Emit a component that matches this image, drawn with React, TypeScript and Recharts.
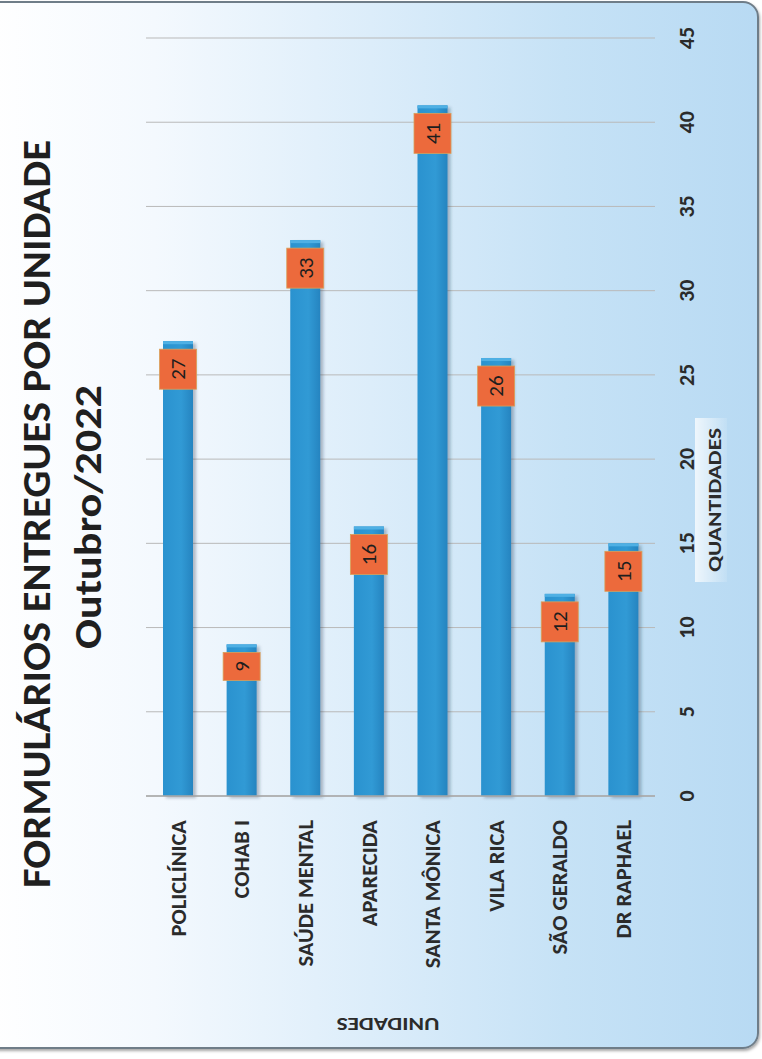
import { Bar, BarChart, CartesianGrid, LabelList, XAxis, YAxis } from "recharts";

const units = ["POLICLÍNICA", "COHAB I", "SAÚDE MENTAL", "APARECIDA", "SANTA MÔNICA", "VILA RICA", "SÃO GERALDO", "DR RAPHAEL"];
const quantities = [27, 9, 33, 16, 41, 26, 12, 15];
const valueTicks = [0, 5, 10, 15, 20, 25, 30, 35, 40, 45];

const title = "FORMULÁRIOS ENTREGUES POR UNIDADE";
const subtitle = "Outubro/2022";
const xTitle = "UNIDADES";
const yTitle = "QUANTIDADES";

const data = units.map((unit, i) => ({ unit, total: quantities[i] }));

const font = "Carlito, Calibri, 'Liberation Sans Narrow', 'DejaVu Sans Condensed', 'Open Sans', sans-serif";
const ink = "#2b2b2b";

function UnitTick({ x, y, payload }: any) {
  return (
    <text
      x={x}
      y={y}
      transform={`rotate(-90 ${x} ${y})`}
      textAnchor="end"
      dy="0.35em"
      fontFamily={font}
      fontWeight={700}
      fontSize={22.5}
      fill={ink}
    >
      {payload.value}
    </text>
  );
}

function ValueTick({ x, y, payload }: any) {
  return (
    <text
      x={x}
      y={y}
      transform={`rotate(-90 ${x} ${y})`}
      textAnchor="middle"
      dy="0.35em"
      fontFamily={font}
      fontWeight={700}
      fontSize={22}
      fill={ink}
    >
      {payload.value}
    </text>
  );
}

function ColumnShape({ x, y, width, height }: any) {
  if (!height || height <= 0) return null;
  return (
    <g>
      <rect x={x + 3} y={y + 2} width={width} height={height} fill="rgba(30,50,70,0.3)" filter="url(#soft)" />
      <rect x={x} y={y} width={width} height={height} fill="url(#column)" />
      <rect x={x} y={y} width={width} height={3} fill="#4fb0e4" />
    </g>
  );
}

function ValueBox({ x, y, width, value }: any) {
  const cx = x + width / 2;
  const len = String(value).length;
  const h = len > 1 ? 40 : 28;
  const w = 37;
  const top = y + 8;
  const cy = top + h / 2;
  return (
    <g>
      <rect x={cx - w / 2} y={top} width={w} height={h} fill="#ec6a3c" stroke="#d9a15a" strokeWidth={0.8} />
      <text
        x={cx}
        y={cy}
        transform={`rotate(-90 ${cx} ${cy})`}
        textAnchor="middle"
        dy="0.35em"
        fontFamily={font}
        fontSize={21}
        fill="#1e1e1e"
      >
        {value}
      </text>
    </g>
  );
}

export default function App() {
  return (
    <div style={{ position: "absolute", left: 0, top: 0, width: 762, height: 1059, background: "#ffffff", overflow: "hidden" }}>
      <div
        style={{
          position: "absolute",
          left: -18,
          top: 1,
          width: 773,
          height: 1044,
          borderRadius: 16,
          border: "2px solid #6f7d88",
          background: "linear-gradient(90deg, #ffffff 0%, #f4f9fe 22%, #dcedfa 50%, #c6e2f6 75%, #b8daf3 100%)",
          boxShadow: "1px 2px 3px rgba(0,0,0,0.35)",
        }}
      />
      <div style={{ position: "absolute", left: 0, top: 0 }}>
        <BarChart width={762} height={1059} data={data} margin={{ top: 38, right: 0, bottom: 0, left: 146 }}>
          <defs>
            <linearGradient id="column" x1="0" x2="1" y1="0" y2="0">
              <stop offset="0%" stopColor="#2a92cf" />
              <stop offset="60%" stopColor="#319ad5" />
              <stop offset="100%" stopColor="#2584c0" />
            </linearGradient>
            <filter id="soft" x="-20%" y="-5%" width="140%" height="110%">
              <feGaussianBlur stdDeviation="1.5" />
            </filter>
          </defs>
          <CartesianGrid vertical={false} stroke="#b9b9b9" strokeWidth={1} />
          <XAxis
            dataKey="unit"
            height={263}
            tickLine={false}
            tickSize={0}
            tickMargin={24}
            axisLine={{ stroke: "#a9a9a9", strokeWidth: 1.5 }}
            interval={0}
            tick={<UnitTick />}
          />
          <YAxis
            orientation="right"
            width={107}
            domain={[0, 45]}
            ticks={valueTicks}
            tickLine={false}
            tickSize={0}
            tickMargin={31}
            axisLine={false}
            tick={<ValueTick />}
          />
          <Bar dataKey="total" barSize={30} shape={<ColumnShape />} isAnimationActive={false}>
            <LabelList dataKey="total" content={<ValueBox />} />
          </Bar>
        </BarChart>
      </div>
      <svg width={762} height={1059} style={{ position: "absolute", left: 0, top: 0, pointerEvents: "none" }}>
        <defs>
          <linearGradient id="ytitleBg" x1="0" x2="1" y1="0" y2="0">
            <stop offset="0%" stopColor="#ffffff" stopOpacity={0.75} />
            <stop offset="100%" stopColor="#ffffff" stopOpacity={0.1} />
          </linearGradient>
        </defs>
        <text
          x={36}
          y={514}
          transform="rotate(-90 36 514)"
          textAnchor="middle"
          dy="0.35em"
          fontFamily={font}
          fontWeight={700}
          fontSize={40}
          fill="#1f1f1f"
          textLength={748}
          lengthAdjust="spacingAndGlyphs"
        >
          {title}
        </text>
        <text
          x={88}
          y={517}
          transform="rotate(-90 88 517)"
          textAnchor="middle"
          dy="0.35em"
          fontFamily={font}
          fontWeight={700}
          fontSize={38}
          fill="#1f1f1f"
          textLength={264}
          lengthAdjust="spacingAndGlyphs"
        >
          {subtitle}
        </text>
        <rect x={695} y={418} width={32} height={164} fill="url(#ytitleBg)" />
        <text
          x={714}
          y={500}
          transform="rotate(-90 714 500)"
          textAnchor="middle"
          dy="0.35em"
          fontFamily={font}
          fontWeight={700}
          fontSize={19}
          fill={ink}
          textLength={144}
          lengthAdjust="spacingAndGlyphs"
        >
          {yTitle}
        </text>
        <text
          x={388}
          y={1024}
          transform="rotate(180 388 1024)"
          textAnchor="middle"
          dy="0.35em"
          fontFamily={font}
          fontWeight={700}
          fontSize={17}
          fill={ink}
          textLength={103}
          lengthAdjust="spacingAndGlyphs"
        >
          {xTitle}
        </text>
      </svg>
    </div>
  );
}
